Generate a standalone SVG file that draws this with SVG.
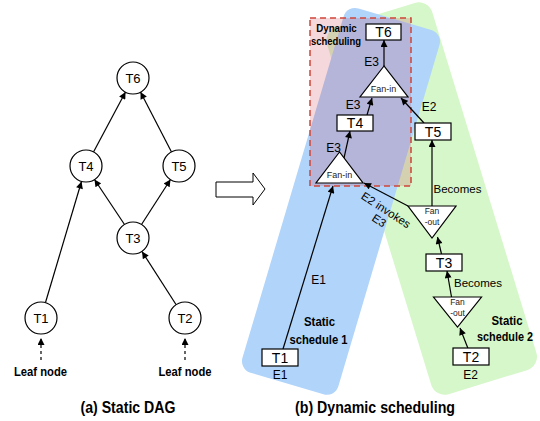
<svg xmlns="http://www.w3.org/2000/svg" width="540" height="421" viewBox="0 0 540 421">
<style>
.c{fill:#fff;stroke:#000;stroke-width:1.2}
.b{fill:#fff;stroke:#000;stroke-width:1.2}
.t{font-family:"Liberation Sans",Arial,sans-serif;fill:#000;text-anchor:middle}
.n{font-size:13px}
.bx{font-size:14px}
.l{font-size:12px}
.s{font-size:9px;fill:#222}
.bd{font-family:"Liberation Sans",Arial,sans-serif;font-weight:bold;text-anchor:middle;fill:#000}
.e{stroke:#000;stroke-width:1.2;fill:none;marker-end:url(#ah)}
</style>
<defs>
<marker id="ah" viewBox="0 0 10 10" refX="10" refY="5" markerWidth="8" markerHeight="7" markerUnits="userSpaceOnUse" orient="auto">
<path d="M0,0 L10,5 L0,10 z" fill="#000"/>
</marker>
</defs>
<rect width="540" height="421" fill="#fff"/>

<g id="backgrounds">
<rect id="schedule2-band" x="0" y="0" width="110" height="384" rx="14" fill="#d6f7c9" transform="translate(323,31) rotate(-17)"/>
<rect id="schedule1-band" x="0" y="0" width="100" height="380" rx="12" fill="#b0d4fa" transform="translate(347,5) rotate(16.5)"/>
<rect id="dynamic-box" x="310" y="18" width="101" height="168" fill="rgba(200,60,80,0.2)" stroke="#d0453a" stroke-width="1.5" stroke-dasharray="6,4"/>
</g>

<g id="connectors">
<!-- static DAG -->
<line class="e" x1="93.5" y1="152" x2="125.5" y2="92"/>
<line class="e" x1="171.5" y1="152" x2="140.5" y2="92"/>
<line class="e" x1="124.5" y1="224.5" x2="94.5" y2="179.5"/>
<line class="e" x1="141.5" y1="224.5" x2="170.5" y2="179.5"/>
<line class="e" x1="45.5" y1="302.5" x2="81.5" y2="181.5"/>
<line class="e" x1="176" y1="304.5" x2="142" y2="251.5"/>
<line class="e" x1="41" y1="360" x2="41" y2="338" stroke-dasharray="3,3"/>
<line class="e" x1="185" y1="360" x2="185" y2="338" stroke-dasharray="3,3"/>
<!-- dynamic scheduling -->
<line class="e" x1="283" y1="349" x2="333" y2="186"/>
<line class="e" x1="344" y1="158" x2="350" y2="131"/>
<line class="e" x1="367" y1="115" x2="372" y2="98"/>
<line class="e" x1="384" y1="66" x2="384" y2="40"/>
<line class="e" x1="424" y1="123" x2="401" y2="98"/>
<line class="e" x1="432" y1="206" x2="432" y2="140" stroke="#333"/>
<line class="e" x1="408" y1="206" x2="364" y2="183"/>
<line class="e" x1="441.5" y1="254" x2="437.5" y2="237"/>
<line class="e" x1="451.5" y1="297" x2="447" y2="271"/>
<line class="e" x1="468" y1="348.5" x2="460" y2="328"/>
</g>

<g id="dag-labels">
<text class="t l" x="318.5" y="284">E1</text>
<text class="t l" x="371.5" y="65.5">E3</text>
<text class="t l" x="353" y="109">E3</text>
<text class="t l" x="333.5" y="151.5">E3</text>
<text class="t l" x="429" y="110.5">E2</text>
<text class="t" style="font-size:11.5px" x="457.5" y="193">Becomes</text>
<text class="t" style="font-size:11.5px" x="478" y="286.5">Becomes</text>
<text class="t" style="font-size:11.5px" transform="translate(383.8,213.4) rotate(33)">E2 invokes<tspan x="0" dy="12.5">E3</tspan></text>
<text class="t l" x="280" y="378.5">E1</text>
<text class="t l" x="470.5" y="379">E2</text>
</g>

<!-- static DAG nodes -->
<g id="a-T6"><circle class="c" cx="133" cy="78" r="16"/><text class="t n" x="133" y="82.5">T6</text></g>
<g id="a-T4"><circle class="c" cx="86" cy="166" r="16"/><text class="t n" x="86" y="170.5">T4</text></g>
<g id="a-T5"><circle class="c" cx="179" cy="166" r="16"/><text class="t n" x="179" y="170.5">T5</text></g>
<g id="a-T3"><circle class="c" cx="133" cy="238" r="16"/><text class="t n" x="133" y="242.5">T3</text></g>
<g id="a-T1"><circle class="c" cx="41" cy="318" r="16"/><text class="t n" x="41" y="322.5">T1</text></g>
<g id="a-T2"><circle class="c" cx="185" cy="318" r="16"/><text class="t n" x="185" y="322.5">T2</text></g>
<g id="leaf-labels">
<text class="bd" style="font-size:13px" x="40.5" y="376" textLength="53" lengthAdjust="spacingAndGlyphs">Leaf node</text>
<text class="bd" style="font-size:13px" x="185" y="376" textLength="53" lengthAdjust="spacingAndGlyphs">Leaf node</text>
</g>

<g id="big-arrow"><polygon points="216,182 253,182 253,173 265,189 253,205 253,197 216,197" fill="#fff" stroke="#000" stroke-width="1"/></g>

<!-- dynamic scheduling nodes -->
<g id="b-T6"><rect class="b" x="366" y="24" width="35" height="16"/><text class="t bx" x="383.5" y="37">T6</text></g>
<g id="b-fanin-top"><polygon class="b" points="384,66 360,97 408,97"/><text class="t s" x="383.5" y="92">Fan-in</text></g>
<g id="b-T4"><rect class="b" x="337" y="115" width="36" height="16"/><text class="t bx" x="355" y="128">T4</text></g>
<g id="b-T5"><rect class="b" x="415" y="123" width="36" height="17"/><text class="t bx" x="433" y="136.5">T5</text></g>
<g id="b-fanin-low"><polygon class="b" points="339.5,152 316,183 363,183"/><text class="t s" x="339.5" y="178">Fan-in</text></g>
<g id="b-fanout-up"><polygon class="b" points="408,206 456,206 432,238"/><text class="t s" style="font-size:8.5px" x="432" y="214">Fan</text><text class="t s" style="font-size:8.5px" x="432" y="225">-out</text></g>
<g id="b-T3"><rect class="b" x="426" y="254" width="36" height="17"/><text class="t bx" x="444" y="267.5">T3</text></g>
<g id="b-fanout-low"><polygon class="b" points="433.5,297 481.5,297 457.5,327"/><text class="t s" style="font-size:8.5px" x="457.5" y="305">Fan</text><text class="t s" style="font-size:8.5px" x="457.5" y="316">-out</text></g>
<g id="b-T1"><rect class="b" x="262" y="349" width="36" height="17"/><text class="t bx" x="280" y="362.5">T1</text></g>
<g id="b-T2"><rect class="b" x="453" y="348" width="36" height="17"/><text class="t bx" x="471" y="361.5">T2</text></g>

<g id="group-labels">
<text class="bd" style="font-size:11.5px" x="336.5" y="32" textLength="40.5" lengthAdjust="spacingAndGlyphs">Dynamic</text>
<text class="bd" style="font-size:11.5px" x="336" y="45" textLength="50" lengthAdjust="spacingAndGlyphs">scheduling</text>
<text class="bd" style="font-size:13px" x="319.5" y="326" textLength="31" lengthAdjust="spacingAndGlyphs">Static</text>
<text class="bd" style="font-size:13px" x="318.5" y="343.5" textLength="58" lengthAdjust="spacingAndGlyphs">schedule 1</text>
<text class="bd" style="font-size:12px" x="507" y="325" textLength="31" lengthAdjust="spacingAndGlyphs">Static</text>
<text class="bd" style="font-size:12px" x="505" y="340.5" textLength="56" lengthAdjust="spacingAndGlyphs">schedule 2</text>
</g>

<g id="captions">
<text class="bd" style="font-size:16.5px" x="128" y="413" textLength="95" lengthAdjust="spacingAndGlyphs">(a) Static DAG</text>
<text class="bd" style="font-size:16.5px" x="375" y="413" textLength="160" lengthAdjust="spacingAndGlyphs">(b) Dynamic scheduling</text>
</g>
</svg>
